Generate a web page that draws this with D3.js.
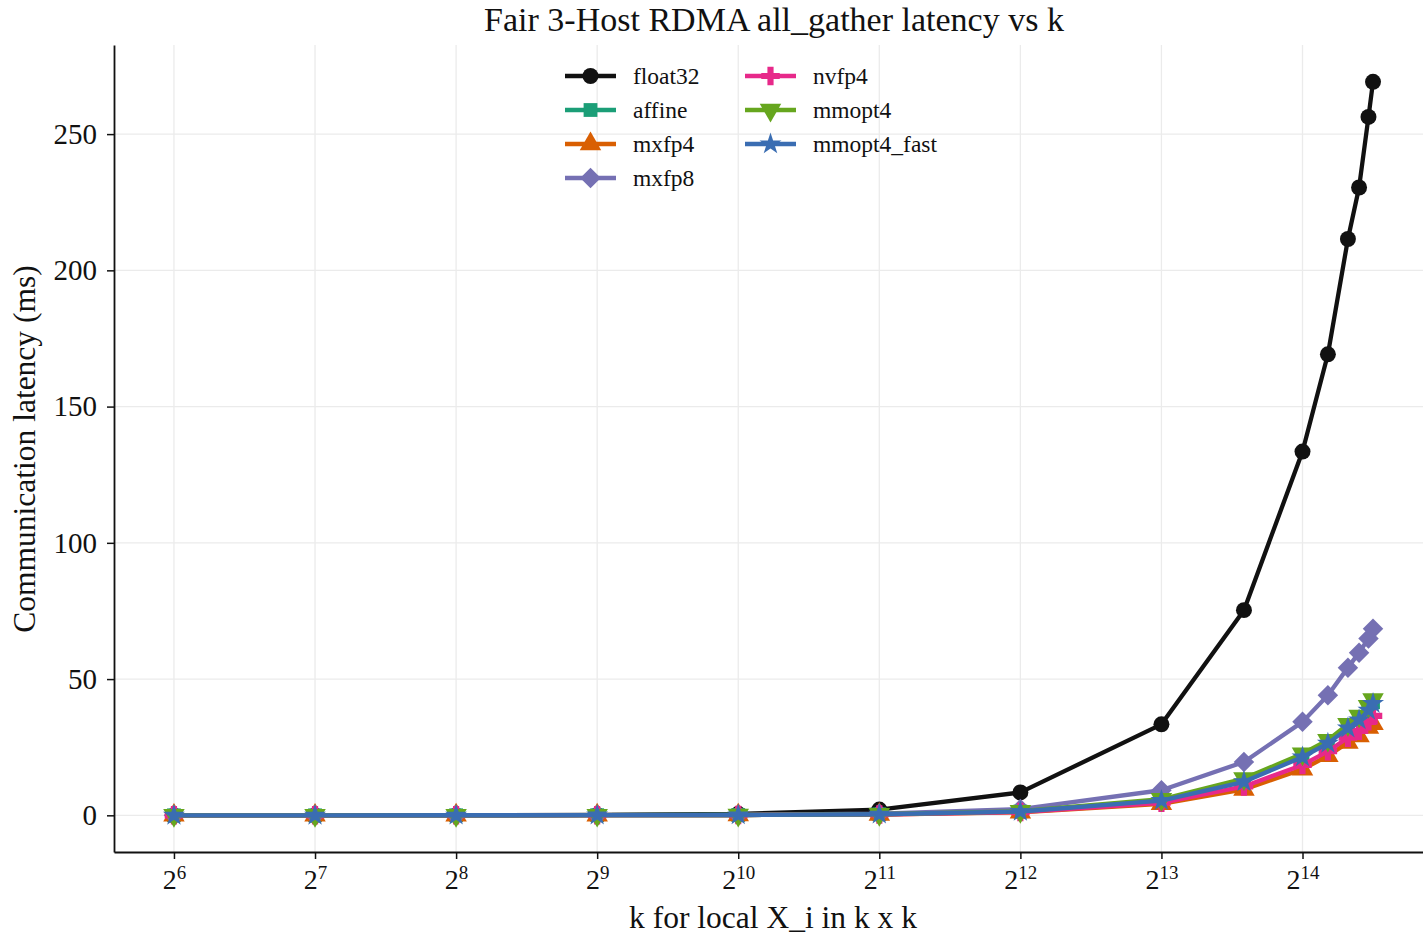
<!DOCTYPE html>
<html>
<head>
<meta charset="utf-8">
<script src="https://cdn.jsdelivr.net/npm/d3@7"></script>
<style>
  body { margin: 0; background: #fff; }
  svg text { font-family: "Liberation Serif", "DejaVu Serif", serif; fill: #111; }
</style>
</head>
<body>
<div id="graph"></div>
<script>
// k values (local X_i is k x k)
var kValues = [64, 128, 256, 512, 1024, 2048, 4096, 8192, 12288, 16384, 18560, 20480, 21632, 22656, 23168];

// latency in ms
var float32    = [0.01, 0.02, 0.05, 0.15, 0.55, 2.1, 8.4, 33.4, 75.3, 133.5, 169.2, 211.5, 230.4, 256.3, 269.2];
var affine     = [0.01, 0.01, 0.02, 0.05, 0.12, 0.4, 1.4, 5.5, 12.6, 21.8, 26.8, 32.5, 35.5, 39.0, 41.5];
var mxfp4      = [0.01, 0.01, 0.02, 0.04, 0.10, 0.3, 1.1, 4.2, 9.5, 16.9, 21.8, 26.7, 29.1, 32.2, 33.6];
var mxfp8      = [0.01, 0.01, 0.02, 0.05, 0.15, 0.6, 2.3, 9.2, 19.6, 34.3, 44.1, 54.2, 59.7, 64.9, 68.5];
var nvfp4      = [0.01, 0.01, 0.02, 0.04, 0.10, 0.3, 1.2, 4.6, 10.6, 18.5, 23.5, 28.5, 31.0, 34.5, 36.5];
var mmopt4     = [0.01, 0.01, 0.02, 0.05, 0.12, 0.4, 1.5, 5.9, 13.5, 22.6, 27.6, 33.4, 36.5, 40.0, 42.5];
var mmopt4Fast = [0.01, 0.01, 0.02, 0.05, 0.12, 0.4, 1.4, 5.4, 12.3, 21.4, 26.4, 32.0, 35.0, 38.5, 41.0];

var seriesNames  = ['float32', 'affine', 'mxfp4', 'mxfp8', 'nvfp4', 'mmopt4', 'mmopt4_fast'];
var seriesValues = [float32, affine, mxfp4, mxfp8, nvfp4, mmopt4, mmopt4Fast];
var seriesColours = ['#111111', '#1b9e77', '#d95f02', '#7570b3', '#e7298a', '#66a61e', '#3a6db2'];

var xTickExps = [6, 7, 8, 9, 10, 11, 12, 13, 14];
var yTicks    = [0, 50, 100, 150, 200, 250];

var overallWidth  = 1423;
var overallHeight = 936;

var margin = { top: 45, right: -10, bottom: 84, left: 114 };
var width  = overallWidth - margin.left - margin.right;
var height = overallHeight - margin.top - margin.bottom;

var svg = d3.select('#graph').append('svg')
            .attr('width', overallWidth)
            .attr('height', overallHeight);

var g = svg.append('g')
           .attr('transform', 'translate(' + margin.left + ',' + margin.top + ')');

var x = d3.scaleLog().base(2)
          .domain([Math.pow(2, 5.575), Math.pow(2, 14.925)])
          .range([0, width]);

var y = d3.scaleLinear()
          .domain([-13.46, 282.7])
          .range([height, 0]);

// grid
g.append('g').selectAll('line.vg')
 .data(xTickExps).enter().append('line')
 .attr('x1', function (d) { return x(Math.pow(2, d)); })
 .attr('x2', function (d) { return x(Math.pow(2, d)); })
 .attr('y1', 0).attr('y2', height)
 .attr('stroke', '#ebebeb').attr('stroke-width', 1.3);

g.append('g').selectAll('line.hg')
 .data(yTicks).enter().append('line')
 .attr('y1', function (d) { return y(d); })
 .attr('y2', function (d) { return y(d); })
 .attr('x1', 0).attr('x2', width)
 .attr('stroke', '#ebebeb').attr('stroke-width', 1.3);

// axes
var xAxis = d3.axisBottom(x)
              .tickValues(xTickExps.map(function (e) { return Math.pow(2, e); }))
              .tickSizeInner(7).tickSizeOuter(0)
              .tickFormat('');

var xg = g.append('g')
          .attr('transform', 'translate(0,' + height + ')')
          .call(xAxis);
xg.select('.domain').attr('stroke', '#111').attr('stroke-width', 1.8);
xg.selectAll('.tick line').attr('stroke', '#111').attr('stroke-width', 1.5);

xg.selectAll('.tick').each(function (d, i) {
    var t = d3.select(this).append('text')
              .attr('y', 37)
              .attr('x', 0)
              .attr('text-anchor', 'middle')
              .style('font-size', '28px');
    t.append('tspan').text('2');
    t.append('tspan').attr('dy', -10).style('font-size', '19px').text(xTickExps[i]);
});

var yAxis = d3.axisLeft(y)
              .tickValues(yTicks)
              .tickSizeInner(7).tickSizeOuter(0).tickPadding(10);

var yg = g.append('g').call(yAxis);
yg.select('.domain').attr('stroke', '#111').attr('stroke-width', 1.8);
yg.selectAll('.tick line').attr('stroke', '#111').attr('stroke-width', 1.5);
yg.selectAll('.tick text')
  .style('font-size', '29px')
  .style('font-family', '"Liberation Serif", serif')
  .attr('fill', '#111');

// lines + markers
var line = d3.line()
             .x(function (d) { return x(d[0]); })
             .y(function (d) { return y(d[1]); });

var symbolFor = function (i)
{
    var types = [d3.symbolCircle, d3.symbolSquare, d3.symbolTriangle, d3.symbolSquare,
                 d3.symbolCross, d3.symbolTriangle, d3.symbolStar];
    var sizes = [200, 190, 200, 210, 190, 200, 150];
    return d3.symbol().type(types[i]).size(sizes[i])();
};
var rotateFor = function (i)
{
    if (i == 5) return ' rotate(180)';
    if (i == 3) return ' rotate(45)';
    return '';
};

for (var s = 0; s < seriesNames.length; s++)
{
    var pts = kValues.map(function (k, j) { return [k, seriesValues[s][j]]; });

    g.append('path')
     .datum(pts)
     .attr('d', line)
     .attr('fill', 'none')
     .attr('stroke', seriesColours[s])
     .attr('stroke-width', 4.3)
     .attr('stroke-linejoin', 'round');

    g.append('g').selectAll('path')
     .data(pts).enter().append('path')
     .attr('d', symbolFor(s))
     .attr('transform', function (d) { return 'translate(' + x(d[0]) + ',' + y(d[1]) + ')' + rotateFor(s); })
     .attr('fill', seriesColours[s]);
}

// title and axis labels
svg.append('text')
   .attr('x', 774).attr('y', 31)
   .attr('text-anchor', 'middle')
   .style('font-size', '34px')
   .text('Fair 3-Host RDMA all_gather latency vs k');

svg.append('text')
   .attr('x', 773).attr('y', 928)
   .attr('text-anchor', 'middle')
   .style('font-size', '31.5px')
   .text('k for local X_i in k x k');

svg.append('text')
   .attr('transform', 'translate(35,449) rotate(-90)')
   .attr('text-anchor', 'middle')
   .style('font-size', '31.5px')
   .text('Communication latency (ms)');

// legend
var legend = svg.append('g');
for (var i = 0; i < seriesNames.length; i++)
{
    var col = i < 4 ? 0 : 1;
    var row = i < 4 ? i : i - 4;
    var lx = col == 0 ? 565 : 745;
    var ly = 76 + row * 34;

    legend.append('line')
          .attr('x1', lx).attr('x2', lx + 51)
          .attr('y1', ly).attr('y2', ly)
          .attr('stroke', seriesColours[i])
          .attr('stroke-width', 4.3);
    legend.append('path')
          .attr('d', symbolFor(i))
          .attr('transform', 'translate(' + (lx + 25.5) + ',' + ly + ')' + rotateFor(i))
          .attr('fill', seriesColours[i]);
    legend.append('text')
          .attr('x', lx + 68).attr('y', ly + 8)
          .style('font-size', '23.5px')
          .text(seriesNames[i]);
}
</script>
</body>
</html>
